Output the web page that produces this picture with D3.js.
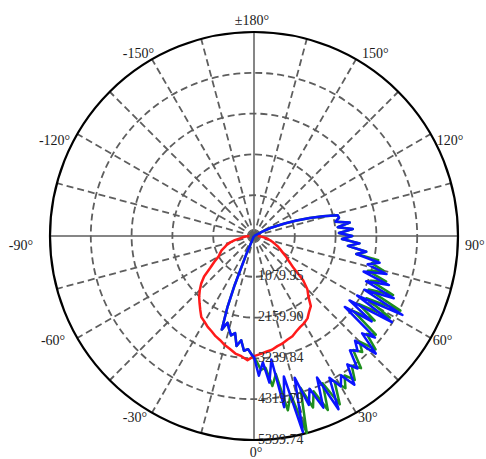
<!DOCTYPE html>
<meta charset="utf-8">
<script src="https://d3js.org/d3.v7.min.js"></script>
<style>
  body { margin: 0; background: #fff; }
  text { font-family: "Liberation Serif", "DejaVu Serif", serif; }
</style>
<div id="chart"></div>
<script>

// radial ticks (cd)
const rTicks = [1079.95, 2159.90, 3239.84, 4319.79, 5399.74];
const rTickLabels = ["1079.95", "2159.90", "3239.84", "4319.79", "5399.74"];

// angle ticks, 0 at bottom, 90 on the right
const angleTicks = [180, 150, 120, 90, 60, 30, 0, -30, -60, -90, -120, -150];
const angleLabels = ["\u00b1180\u00b0", "150\u00b0", "120\u00b0", "90\u00b0", "60\u00b0", "30\u00b0", "0\u00b0",
                     "-30\u00b0", "-60\u00b0", "-90\u00b0", "-120\u00b0", "-150\u00b0"];

// red curve
const redAngles = [-90, -87, -84, -81, -78, -75, -72, -69, -66, -63, -60, -57, -54, -51, -48, -45, -42, -39,
    -36, -33, -30, -27, -24, -21, -18, -15, -12, -9, -6, -3, 0, 3, 6, 9, 12, 15, 18, 21, 24, 27, 30, 33,
    36, 39, 42, 45, 48, 51, 54, 57, 60, 63, 66, 69, 72, 75, 78, 81, 84, 87, 90];
const redValues = [120, 220, 300, 340, 520, 650, 760, 830, 940, 1010, 1080, 1250, 1430, 1700, 1880, 2030, 2170, 2290,
    2420, 2560, 2620, 2700, 2760, 2840, 2900, 2990, 3060, 3150, 3200, 3290, 3180, 3130, 3080, 3050, 2980, 2940, 2880, 2840, 2760, 2700, 2660, 2600,
    2480, 2390, 2150, 2000, 1750, 1350, 1150, 1020, 880, 780, 700, 600, 520, 440, 380, 300, 220, 150, 100];

// blue curve
const blueAngles = [-26, -23, -21.5, -20.5, -19, -17, -15, -13, -11, -9, -7, -5, -3, -1,
    0, 2, 4, 6, 8, 10, 12, 14, 16, 18, 20, 22, 24, 26, 28, 30, 32, 34, 36, 38, 40, 42, 44, 46, 48, 50,
    52, 54, 56, 58, 60, 62, 64, 66, 68, 70, 72, 74, 76, 78, 80, 82, 84, 86, 88, 90, 92, 94, 96, 98, 100,
    102, 104, 106, 108, 110, 112, 114, 116, 118, 120];
const blueValues = [0, 500, 1400, 2000, 2620, 2400, 2550, 2700, 2620, 2950, 2780, 3050, 3000, 3150,
    3200, 3700, 3350, 3900, 3300, 4600, 3800, 5350, 3900, 4700, 4300, 4900, 4100, 5100, 4250, 4600, 4350, 4750, 4200, 4450, 3950, 4100, 3850, 4480, 3850, 4180,
    3050, 3850, 3050, 4300, 3150, 4450, 3250, 4050, 3200, 3800, 3050, 3650, 3100, 3400, 2750, 3000, 2500, 2800, 2330, 2600, 2250, 2620, 2230, 2560, 2190,
    2300, 2280, 1900, 1550, 1200, 900, 650, 480, 250, 0];

// green curve
const greenAngles = [-26, -23, -21.5, -20.5, -19, -17, -15, -13, -11, -9, -7, -5, -3, -1,
    1, 3, 5, 7, 9, 11, 13, 15, 17, 19, 21, 23, 25, 27, 29, 31, 33, 35, 37, 39, 41, 43, 45, 47, 49, 51,
    53, 55, 57, 59, 61, 63, 65, 67, 69, 71, 73, 75, 77, 79, 80, 82, 84, 86, 88, 90, 92, 94, 96, 98, 100,
    102, 104, 106, 108, 110, 112, 114, 116, 118, 120];
const greenValues = [0, 500, 1400, 2000, 2620, 2400, 2550, 2700, 2620, 2950, 2780, 3050, 3000, 3150,
    3300, 3550, 3500, 4000, 3700, 4700, 4300, 5400, 4200, 4800, 4400, 5000, 4300, 5000, 4400, 4700, 4400, 4650, 4300, 4500, 4000, 4200, 3950, 4400, 3950, 4150,
    3300, 3900, 3300, 4200, 3400, 4350, 3350, 4000, 3300, 3700, 3150, 3550, 3200, 3350, 2750, 3000, 2500, 2800, 2330, 2600, 2250, 2620, 2230, 2560, 2190,
    2300, 2280, 1900, 1550, 1200, 900, 650, 480, 250, 0];

const width = 486, height = 459;
const cx = 254, cy = 236, R = 204;

const svg = d3.select("#chart").append("svg")
    .attr("width", width)
    .attr("height", height);

const g = svg.append("g").attr("transform", `translate(${cx},${cy})`);

const r = d3.scaleLinear().domain([0, rTicks[rTicks.length - 1]]).range([0, R]);

// chart angle (deg, 0 at bottom) -> d3 radial angle (rad, 0 at top, clockwise)
const toRad = a => Math.PI - a * Math.PI / 180;

const gridColor = "#5e5e5e";

// dashed rings
g.selectAll(".ring")
    .data(rTicks.slice(0, -1))
    .join("circle")
    .attr("class", "ring")
    .attr("r", d => r(d))
    .attr("fill", "none")
    .attr("stroke", gridColor)
    .attr("stroke-width", 1.8)
    .attr("stroke-dasharray", "7,4");

// spokes every 15 deg, main axes solid
const spokes = d3.range(0, 360, 15);
g.selectAll(".spoke")
    .data(spokes)
    .join("line")
    .attr("class", "spoke")
    .attr("x1", 0).attr("y1", 0)
    .attr("x2", d => R * Math.sin(toRad(d)))
    .attr("y2", d => -R * Math.cos(toRad(d)))
    .attr("stroke", gridColor)
    .attr("stroke-width", d => d % 90 === 0 ? 1.5 : 1.8)
    .attr("stroke-dasharray", d => d % 90 === 0 ? null : "7,4");

// outer circle
g.append("circle")
    .attr("r", R)
    .attr("fill", "none")
    .attr("stroke", "#000")
    .attr("stroke-width", 2.2);

// curves
const line = d3.lineRadial()
    .angle(d => toRad(d[0]))
    .radius(d => r(d[1]));

const series = [
    {angles: redAngles, values: redValues, color: "#ff1a1a"},
    {angles: greenAngles, values: greenValues, color: "#1f8f1f"},
    {angles: blueAngles, values: blueValues, color: "#0a14ff"}
];

g.selectAll(".curve")
    .data(series)
    .join("path")
    .attr("class", "curve")
    .attr("d", s => line(d3.zip(s.angles, s.values)))
    .attr("fill", "none")
    .attr("stroke", s => s.color)
    .attr("stroke-width", 2.5)
    .attr("stroke-linejoin", "round");

// radial labels along the 0 deg direction
g.selectAll(".rlabel")
    .data(rTicks)
    .join("text")
    .attr("class", "rlabel")
    .attr("x", 4)
    .attr("y", d => r(d) - 1)
    .attr("dominant-baseline", "central")
    .attr("font-size", 14)
    .attr("fill", "#2a2a2a")
    .text((d, i) => rTickLabels[i]);

// angle labels, nudged to where the original puts them
const nudge = {"180": [-2, -6], "150": [3, -1], "120": [1, 9], "90": [1, 9], "60": [-3, -1], "30": [-1, 0],
    "0": [2, 6], "-30": [-2, 0], "-60": [-7, -1], "-90": [-11, 9], "-120": [-2, 9], "-150": [5, -1]};

g.selectAll(".alabel")
    .data(angleTicks)
    .join("text")
    .attr("class", "alabel")
    .attr("x", d => (R + 6) * Math.sin(toRad(d)) + nudge[d][0])
    .attr("y", d => -(R + 6) * Math.cos(toRad(d)) + nudge[d][1])
    .attr("text-anchor", d => Math.abs(d) === 180 || d === 0 ? "middle" : (d > 0 ? "start" : "end"))
    .attr("dominant-baseline", "central")
    .attr("font-size", 14)
    .attr("fill", "#1a1a1a")
    .text((d, i) => angleLabels[i]);

</script>
